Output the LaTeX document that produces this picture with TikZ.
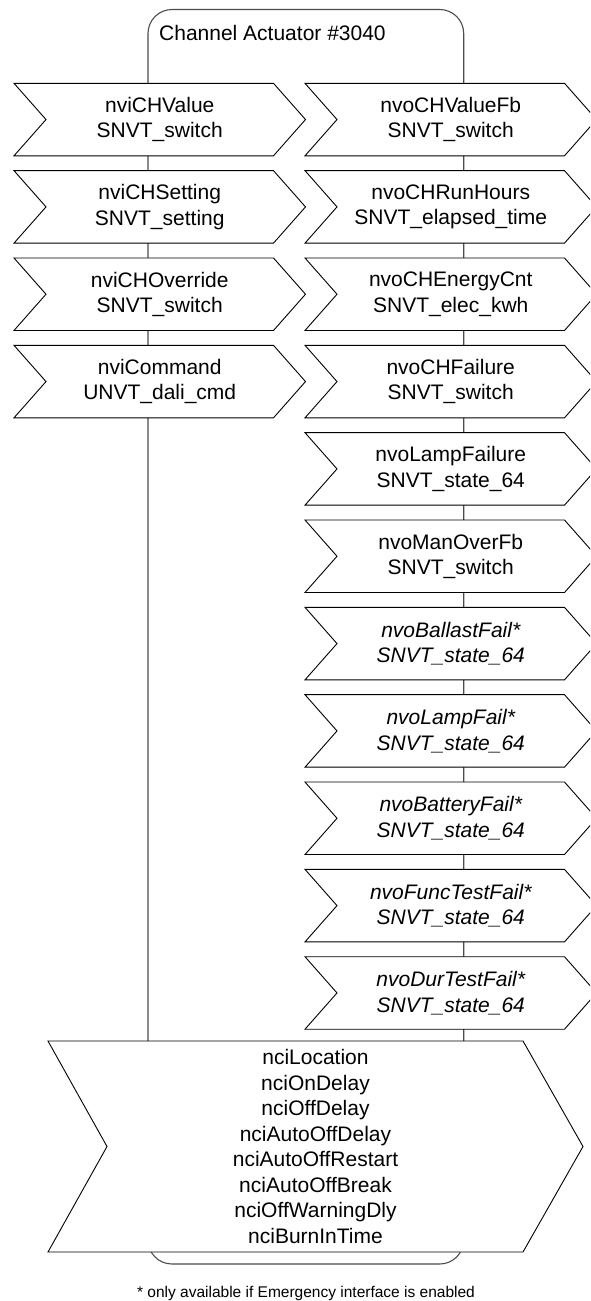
\documentclass[tikz,border=0pt]{standalone}
\usepackage{fontspec}
\setmainfont{Liberation Sans}
\tikzset{
  chev/.style={draw=black, line width=0.9pt, fill=white, line join=miter},
  frame/.style={draw=black!70, line width=1.1pt, rounded corners=24pt},
  lbl/.style={align=center, font=\fontsize{21}{25.5}\selectfont, inner sep=0pt},
  lbli/.style={lbl, font=\fontsize{21}{25.5}\selectfont\itshape},
  note/.style={font=\fontsize{15.5}{18}\selectfont, inner sep=0pt},
}
% #1 x-left, #2 row, #3 node name, #4 label style, #5 line1, #6 line2
\newcommand\rowchev[6]{%
  \pgfmathsetmacro\rt{83.3+87.34*#2}%
  \path[chev] (#1,\rt) -- ({#1+259.5},\rt) -- ({#1+291.5},{\rt+36.25})
     -- ({#1+259.5},{\rt+72.5}) -- (#1,{\rt+72.5}) -- ({#1+32},{\rt+36.25}) -- cycle;
  \node[#4] (#3) at ({#1+145.75},{\rt+36.25}) {#5\\#6};
}
\begin{document}
\begin{tikzpicture}[x=1pt,y=-1pt]
\useasboundingbox (0,0) rectangle (590,1301);
\clip (0,0) rectangle (590,1301);
% device frame
\path[frame] (148,9.5) rectangle (463.7,1264);
\node[lbl, anchor=base west] (title) at (159,40) {Channel Actuator \#3040};
% inputs
\rowchev{14}{0}{in0}{lbl}{nviCHValue}{SNVT\_switch}
\rowchev{14}{1}{in1}{lbl}{nviCHSetting}{SNVT\_setting}
\rowchev{14}{2}{in2}{lbl}{nviCHOverride}{SNVT\_switch}
\rowchev{14}{3}{in3}{lbl}{nviCommand}{UNVT\_dali\_cmd}
% outputs
\rowchev{305}{0}{out0}{lbl}{nvoCHValueFb}{SNVT\_switch}
\rowchev{305}{1}{out1}{lbl}{nvoCHRunHours}{SNVT\_elapsed\_time}
\rowchev{305}{2}{out2}{lbl}{nvoCHEnergyCnt}{SNVT\_elec\_kwh}
\rowchev{305}{3}{out3}{lbl}{nvoCHFailure}{SNVT\_switch}
\rowchev{305}{4}{out4}{lbl}{nvoLampFailure}{SNVT\_state\_64}
\rowchev{305}{5}{out5}{lbl}{nvoManOverFb}{SNVT\_switch}
\rowchev{305}{6}{out6}{lbli}{nvoBallastFail*}{SNVT\_state\_64}
\rowchev{305}{7}{out7}{lbli}{nvoLampFail*}{SNVT\_state\_64}
\rowchev{305}{8}{out8}{lbli}{nvoBatteryFail*}{SNVT\_state\_64}
\rowchev{305}{9}{out9}{lbli}{nvoFuncTestFail*}{SNVT\_state\_64}
\rowchev{305}{10}{out10}{lbli}{nvoDurTestFail*}{SNVT\_state\_64}
% configuration properties
\path[chev] (48,1041) -- (523,1041) -- (583,1146.5) -- (523,1252) -- (48,1252) -- (107,1146.5) -- cycle;
\node[lbl] (cfg) at (315.5,1146.5) {nciLocation\\nciOnDelay\\nciOffDelay\\nciAutoOffDelay\\nciAutoOffRestart\\nciAutoOffBreak\\nciOffWarningDly\\nciBurnInTime};
% footnote
\node[note] (fn) at (306,1293) {* only available if Emergency interface is enabled};
\end{tikzpicture}
\end{document}
